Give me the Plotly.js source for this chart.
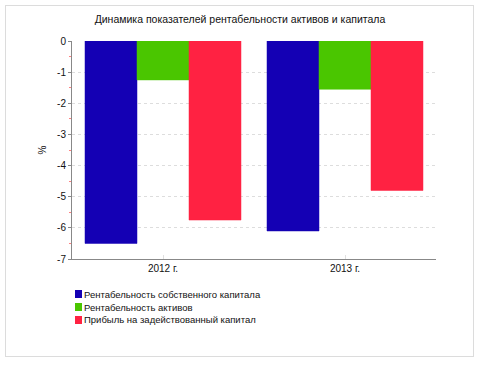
<!DOCTYPE html>
<html><head><meta charset="utf-8">
<script src="https://cdn.plot.ly/plotly-3.0.1.min.js"></script>
<style>
html,body{margin:0;padding:0;background:#fff;}
#frame{position:absolute;left:5px;top:5px;width:469px;height:352px;border:1px solid #dcdcdc;box-sizing:border-box;}
#chart{position:absolute;left:0;top:0;width:480px;height:365px;}
</style></head><body>
<div id="frame"></div>
<div id="chart"></div>
<script>
const categories = ["2012 г.", "2013 г."];
const seriesNames = ["Рентабельность собственного капитала", "Рентабельность активов", "Прибыль на задействованный капитал"];
const roe = [-6.5, -6.1];
const roa = [-1.25, -1.55];
const roce = [-5.75, -4.8];
const colors = ["#1400B4", "#4AC600", "#FF2242"];
const yTicks = [0, -1, -2, -3, -4, -5, -6, -7];

const FONT = "'Liberation Sans', Arial, sans-serif";
const values = [roe, roa, roce];
const traces = values.map((v, i) => ({
  type: 'bar', x: categories, y: v, name: seriesNames[i],
  marker: {color: colors[i], line: {color: colors[i], width: 0.5}},
  showlegend: false, hoverinfo: 'none'
}));

const legY = [-0.1606, -0.2202, -0.2798];
const shapes = [], annotations = [];
seriesNames.forEach((n, i) => {
  shapes.push({type: 'rect', xref: 'paper', yref: 'paper',
    x0: 0.0082, x1: 0.0275, y0: legY[i] - 0.0183, y1: legY[i] + 0.0183,
    fillcolor: colors[i], line: {width: 0}});
  annotations.push({xref: 'paper', yref: 'paper', x: 0.028, y: legY[i],
    xanchor: 'left', yanchor: 'middle', showarrow: false, text: n,
    font: {family: FONT, size: 9.5, color: '#111'}});
});

const layout = {
  width: 480, height: 365,
  margin: {l: 72, r: 44, t: 41, b: 106},
  paper_bgcolor: 'rgba(0,0,0,0)', plot_bgcolor: '#fff',
  barmode: 'group', bargap: 0.143, bargroupgap: 0,
  title: {text: 'Динамика показателей рентабельности активов и капитала',
    font: {family: FONT, size: 10.5, color: '#111'}, x: 0.5, xanchor: 'center', y: 0.948, yanchor: 'middle'},
  xaxis: {type: 'category', range: [-0.5, 1.5], showline: true, linecolor: '#888', linewidth: 1,
    ticks: 'inside', ticklen: 4, tickcolor: '#e0e0e0', showgrid: false,
    tickfont: {family: FONT, size: 10, color: '#111'}},
  yaxis: {range: [-7, 0], tickvals: yTicks, ticktext: yTicks.map(String),
    showline: true, linecolor: '#888', linewidth: 1, ticks: 'outside', ticklen: 3, tickcolor: '#888',
    showgrid: true, gridcolor: '#dddddd', griddash: 'dot', zeroline: false,
    minor: {dtick: 0.5, ticks: 'outside', ticklen: 2, tickcolor: '#ff8080', showgrid: false},
    tickfont: {family: FONT, size: 10, color: '#111'},
    title: {text: '%', font: {family: FONT, size: 10, color: '#111'}, standoff: 8}},
  shapes: shapes, annotations: annotations
};
Plotly.newPlot('chart', traces, layout, {staticPlot: true, displayModeBar: false});
</script></body></html>
